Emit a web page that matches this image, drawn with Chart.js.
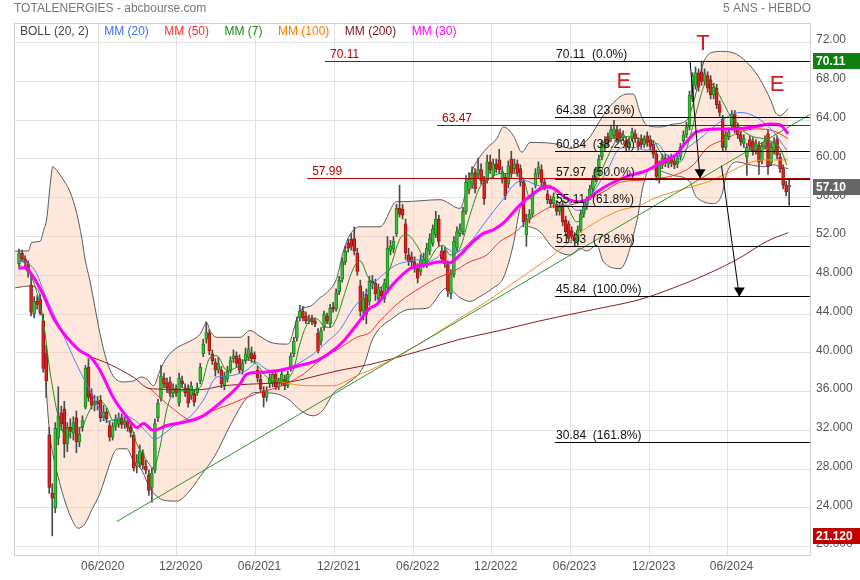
<!DOCTYPE html>
<html>
<head>
<meta charset="utf-8">
<title>TOTALENERGIES - 5 ANS - HEBDO</title>
<script src="https://cdn.jsdelivr.net/npm/chart.js@4.4.1/dist/chart.umd.min.js"></script>
<style>
  html, body { margin: 0; padding: 0; background: #fff; }
  canvas { display: block; }
</style>
</head>
<body>
<canvas id="myChart" width="860" height="580"></canvas>
<script>
// weekly candles, week 0 = last week of december 2019
const opens = [49.2,50.3,49.7,49.2,47.0,44.0,45.3,45.5,43.3,39.9, 31.5,25.5,24.0,31.2,33.8,34.2,30.6,32.3,31.7,33.3,
  30.8,32.3,34.4,38.5,35.8,34.6,35.0,35.1,33.3,33.9, 32.5,31.3,32.4,32.6,33.3,32.6,32.9,32.3,31.5,28.3,
  28.6,29.6,28.3,27.4,26.1,27.9,33.3,35.3,37.4,36.9, 37.0,35.8,36.3,34.8,37.1,36.4,36.3,35.6,35.8,35.9,
  37.1,39.9,41.4,42.0,39.9,39.0,38.2,38.2,36.6,37.3, 38.1,39.4,39.7,39.4,38.2,39.2,39.5,40.0,39.8,38.2,
  37.3,36.1,35.4,36.8,36.9,37.8,36.5,36.9,37.3,36.6, 38.4,39.9,41.5,43.6,44.3,43.8,43.3,43.6,43.3,42.0,
  41.2,42.6,43.8,43.0,44.6,44.5,46.3,47.6,49.4,51.3, 51.7,51.8,50.3,46.9,44.3,46.0,45.3,47.4,47.2,45.6,
  46.4,45.6,46.7,50.5,50.7,52.3,54.9,54.8,53.3,50.1, 49.9,49.4,48.7,48.4,49.1,49.1,50.5,51.3,52.2,53.8,
  50.5,50.5,49.1,46.1,48.1,50.8,52.3,52.5,54.6,56.8, 57.4,58.6,58.4,58.9,57.8,57.8,59.7,58.3,59.5,59.9,
  57.9,58.1,57.4,60.0,59.0,59.5,59.0,57.6,52.2,53.8, 54.3,57.3,58.5,58.9,57.6,56.4,55.8,55.4,55.3,54.6,
  55.3,53.7,53.3,52.6,52.0,51.5,52.7,54.3,55.1,56.1, 56.9,57.9,58.7,60.2,61.2,62.3,62.1,62.4,63.0,62.7,
  62.2,61.9,61.2,62.1,62.6,61.8,62.1,61.5,62.4,62.0, 61.5,60.5,57.9,59.4,60.1,59.5,60.1,59.8,59.5,60.2,
  61.9,62.5,63.3,66.2,67.6,68.9,69.0,68.0,68.6,68.2, 66.6,67.3,65.6,64.1,61.2,62.3,63.5,64.6,63.3,62.5,
  61.6,60.2,62.0,61.8,60.9,61.4,59.9,61.3,62.6,59.6, 60.9,62.0,60.2,59.0,57.3,57.1];
const highs = [50.7,50.6,50.0,49.5,48.2,45.8,45.9,46.0,44.0,40.8, 32.3,26.5,32.8,36.5,34.5,35.0,32.8,33.2,33.4,34.0,
  32.2,33.5,38.7,39.4,36.3,35.6,35.5,35.6,34.6,34.3, 33.0,32.8,33.6,33.8,33.7,33.4,33.3,32.7,31.8,29.5,
  30.5,30.0,28.9,27.9,28.1,33.2,35.2,38.7,37.9,37.4, 37.5,36.8,36.7,37.9,37.6,36.8,36.7,37.0,36.2,36.9,
  38.9,41.4,43.2,42.4,40.3,39.4,39.5,38.6,38.0,38.6, 39.6,40.3,40.1,39.8,39.3,40.5,41.7,40.6,40.1,38.6,
  37.8,36.5,36.5,37.8,38.2,38.1,37.4,38.1,37.7,38.1, 40.0,41.6,43.7,44.9,44.8,44.2,43.9,43.9,43.6,42.5,
  42.6,44.3,44.1,45.0,45.2,46.6,47.9,49.8,51.0,51.7, 52.3,53.0,50.8,47.5,46.3,46.6,47.9,48.0,47.6,47.1,
  46.8,47.6,52.0,51.6,52.0,55.3,57.3,55.3,53.8,50.8, 50.4,49.9,49.2,50.1,50.3,51.3,52.3,53.2,54.6,54.2,
  51.0,50.9,49.5,48.6,52.0,53.0,53.3,55.0,58.3,58.6, 59.2,59.0,60.1,59.5,58.2,60.4,60.4,60.0,60.0,61.0,
  59.2,58.5,59.8,60.8,60.0,59.9,59.4,57.9,54.3,54.8, 57.0,59.0,59.7,59.4,58.0,56.8,56.2,56.5,55.7,55.5,
  55.7,54.1,53.6,53.0,52.4,53.1,54.7,55.5,56.1,57.3, 58.3,59.1,60.4,61.9,62.3,62.7,63.5,64.0,63.4,63.1,
  62.9,62.3,62.2,63.2,63.0,62.2,62.5,62.4,62.8,62.4, 61.9,60.9,59.8,60.5,60.5,60.4,60.5,60.2,60.5,61.6,
  62.9,63.8,67.0,68.9,69.5,69.3,70.11,69.3,69.0,68.6, 67.8,67.7,66.0,64.5,62.9,63.2,65.0,65.0,63.7,62.9,
  62.5,61.6,62.4,62.2,62.0,61.8,61.7,62.4,63.0,61.7, 62.2,62.4,60.6,59.4,57.7,57.8];
const lows = [48.9,49.4,48.9,47.8,43.8,43.6,44.5,43.9,38.0,35.4, 25.5,21.12,23.5,30.5,32.0,29.2,29.8,31.2,31.0,29.7,
  30.3,31.9,34.2,35.0,34.2,34.0,34.1,32.9,33.0,32.8, 30.9,31.0,32.0,32.3,32.2,32.2,31.9,31.3,27.8,27.6,
  28.2,28.0,27.5,25.3,24.6,27.6,32.9,35.0,36.4,35.9, 35.5,35.4,35.5,34.5,36.4,35.5,34.4,35.2,34.5,35.6,
  36.8,39.6,41.0,39.8,38.8,37.6,37.9,36.4,36.2,37.0, 37.9,39.0,38.5,37.9,37.8,38.9,39.2,39.0,39.0,37.0,
  35.9,34.4,35.0,36.4,36.5,36.2,36.2,36.6,36.2,36.4, 38.1,39.6,41.2,43.3,43.3,43.0,43.0,42.9,42.7,40.0,
  40.8,42.3,43.0,42.7,44.2,44.3,46.0,47.3,49.1,50.4, 50.6,50.1,48.0,43.8,43.4,43.0,44.9,46.6,45.4,45.2,
  45.4,45.2,46.4,50.1,50.3,52.0,54.0,53.8,49.6,49.0, 48.9,48.3,47.2,48.0,48.8,48.8,50.1,51.0,51.9,51.0,
  49.3,48.8,45.8,45.6,47.8,50.5,52.0,52.2,54.3,56.4, 57.0,56.5,58.0,57.4,55.3,57.5,58.5,58.0,58.6,58.5,
  57.5,55.8,57.0,58.1,58.6,58.2,57.2,53.0,51.0,53.4, 54.0,57.0,58.1,57.2,56.8,55.4,55.0,55.0,54.2,54.2,
  53.1,52.1,51.4,51.6,51.0,51.1,52.4,54.0,54.8,55.8, 56.6,57.6,58.4,59.9,60.9,61.3,61.8,62.1,61.7,61.8,
  61.9,60.8,60.9,61.8,61.7,60.9,61.1,61.2,61.3,60.9, 60.1,57.8,57.5,59.0,59.2,59.1,59.2,59.0,59.1,59.9,
  61.5,62.2,63.0,65.9,67.2,67.0,67.6,67.6,66.9,66.2, 66.2,65.2,64.4,60.8,60.9,62.0,63.2,62.7,62.1,61.4,
  61.2,58.3,60.9,60.4,60.5,58.4,59.5,61.0,58.4,59.3, 60.5,60.0,58.6,56.9,56.2,55.2];
const closes = [50.3,49.7,49.3,48.4,44.2,45.3,45.0,44.1,38.4,37.1, 26.1,25.0,32.2,33.5,32.7,30.6,32.3,31.9,32.8,30.8,
  31.6,33.0,38.4,35.4,34.6,35.0,34.7,33.3,33.9,33.2, 31.3,32.4,33.2,33.3,32.6,32.9,32.3,31.8,28.1,28.7,
  29.9,28.4,27.9,25.8,27.6,32.7,34.8,37.6,36.8,36.4, 35.8,36.3,35.9,37.4,36.8,35.9,34.8,36.6,34.9,36.4,
  38.5,40.9,42.1,40.2,39.2,38.2,38.9,36.8,37.6,38.1, 39.2,39.7,38.9,38.2,38.9,39.9,40.4,39.4,39.4,37.4,
  36.3,35.4,36.1,37.4,37.8,36.5,37.1,37.8,36.6,37.8, 39.7,41.2,43.3,44.3,43.6,43.3,43.5,43.2,43.0,40.2,
  42.3,44.0,43.3,44.6,44.5,46.2,47.5,49.4,50.5,50.8, 51.0,50.5,48.4,44.3,45.6,44.0,47.4,47.2,46.1,46.6,
  45.9,47.2,50.8,51.0,51.5,54.9,54.3,54.2,50.3,49.4, 49.4,48.7,47.7,49.6,49.7,50.8,51.8,52.8,53.8,51.5,
  49.7,49.2,46.4,48.1,51.5,52.5,52.8,54.6,57.6,57.9, 58.5,56.9,58.9,57.8,55.9,59.7,58.9,59.5,59.0,58.9,
  58.7,56.2,59.3,58.5,59.5,58.6,57.6,53.5,53.8,54.3, 56.5,58.5,59.2,57.6,57.2,55.8,55.4,56.1,54.6,55.1,
  53.5,52.5,51.8,52.0,51.6,52.7,54.3,55.1,55.7,56.9, 57.9,58.7,60.0,61.5,61.8,61.7,63.0,63.1,62.1,62.2,
  62.5,61.2,61.8,62.8,62.1,61.3,61.5,62.0,61.7,61.3, 60.5,58.2,59.4,60.1,59.6,60.0,59.6,59.4,60.1,61.2,
  62.5,63.3,66.6,68.6,68.9,67.4,68.0,68.8,67.3,66.6, 67.4,65.6,64.8,61.2,62.5,62.8,64.6,63.1,62.5,61.8,
  62.1,61.2,61.3,60.8,61.6,59.7,61.3,61.9,59.2,61.2, 61.7,60.4,59.0,57.3,56.6,57.1];

// indicator lines: week positions and values
const bollUpW = [-1.3,3.1,4.2,7.0,8.0,9.2,10.3,11.2,12.5,15.2,16.9,19.1,20.8,21.9,23.5,26.8,29.0,31.2,34.5,37.8,
  40.6,42.3,44.5,46.7,48.9,52.2,56.6,59.9,62.2,63.2,65.5,73.2,76.5,79.8,83.1,88.6,89.7,91.4,93.6,96.4,
  99.7,101.9,105.2,107.4,109.6,112.9,119.5,125.1,127.3,139.4,146.0,149.3,152.1,154.9,158.2,160.4,163.7,166.5,169.2,176.9,
  182.5,188.0,193.5,196.8,201.2,203.4,205.6,207.8,212.3,216.7,221.1,223.3,226.6,229.4,233.2,237.6,242.1,245.4,248.7,250.9,
  252.0,254.7];
const bollUpV = [50.5,50.5,51.4,51.5,52.5,53.9,57.3,59.2,58.8,57.6,56.6,54.4,51.8,49.6,47.4,42.0,39.2,37.6,37.0,37.1,
  37.5,37.3,36.6,38.2,39.5,40.5,41.2,41.9,43.1,42.3,41.6,41.6,42.3,41.7,41.1,40.9,41.1,42.9,44.5,44.8,
  45.7,46.2,47.7,50.5,52.2,53.0,53.0,55.6,55.6,55.8,54.9,58.3,60.0,61.1,62.1,63.3,62.4,60.7,61.7,61.6,
  61.1,61.9,64.5,65.8,66.7,66.7,64.8,63.5,63.3,63.6,64.0,65.8,69.9,71.0,71.1,70.8,69.6,68.2,66.2,64.6,
  64.5,65.2];
const bollLowW = [-1.3,3.6,6.3,8.0,9.2,10.3,11.9,14.7,17.5,19.6,21.9,24.1,26.8,30.1,31.8,33.4,35.7,37.8,40.6,43.4,
  45.6,47.8,52.2,56.6,59.9,64.9,69.9,74.8,78.1,84.8,89.7,93.0,97.4,100.7,104.0,108.6,113.9,117.2,123.8,129.5,
  135.1,141.7,146.0,149.3,152.6,157.0,160.3,163.6,165.9,167.0,168.1,169.2,172.5,176.9,182.5,185.8,188.0,191.3,193.5,199.0,
  204.5,206.7,208.9,216.7,222.2,223.8,226.6,229.9,232.7,234.3,237.6,242.1,246.5,249.8,252.0,254.7];
const bollLowV = [46.7,46.9,46.5,42.5,35.4,31.3,28.6,25.2,22.8,21.9,22.4,23.8,25.5,28.6,29.9,30.1,30.1,28.9,27.9,26.0,
  25.2,24.8,24.7,25.8,27.2,29.4,32.5,35.1,35.9,35.8,35.1,34.1,33.5,34.1,35.8,36.8,38.5,41.5,43.6,44.5,
  44.6,46.7,45.7,45.3,45.8,46.7,47.7,51.1,54.9,55.3,53.2,53.0,52.5,50.8,50.1,50.8,50.5,51.1,49.4,48.7,
  53.5,57.3,59.0,58.3,57.6,56.3,55.6,55.4,56.3,58.5,59.7,59.4,59.2,59.4,59.2,59.0];
const mm30W = [-0.2,2.0,4.2,8.0,11.4,15.8,20.2,23.5,26.8,31.2,35.7,39.0,41.2,44.5,48.9,55.5,61.0,67.6,73.2,75.4,
  80.9,86.4,93.0,98.6,103.0,107.4,111.8,116.2,118.5,123.9,129.5,135.0,139.4,142.7,146.0,150.4,153.7,157.1,160.4,164.8,
  168.1,174.7,176.9,181.4,185.8,188.0,191.3,196.8,202.3,207.8,212.3,217.8,220.0,224.4,231.0,237.6,243.1,248.7,252.0,254.7];
const mm30V = [48.7,48.8,48.1,46.0,43.6,41.6,40.2,39.6,38.2,35.4,33.4,32.3,32.7,32.0,32.5,32.9,33.5,35.1,36.8,37.8,
  38.0,38.2,38.7,39.2,40.0,41.2,42.9,44.6,45.0,47.1,48.7,49.1,49.4,49.3,50.1,51.5,52.3,52.7,53.4,54.9,
  55.9,57.1,57.0,55.9,55.6,55.8,56.6,57.6,58.3,58.8,59.6,60.5,61.4,62.8,63.1,63.1,63.3,63.6,63.5,62.6];
const mm20W = [-0.3,5.3,8.6,13.6,19.1,23.5,26.8,29.0,32.4,35.7,39.0,42.3,45.0,47.8,52.2,56.6,61.0,65.5,68.8,75.4,
  78.7,80.9,83.1,87.5,89.7,93.0,97.5,101.9,106.3,110.7,114.0,117.3,121.8,125.1,128.4,131.7,135.0,138.3,141.6,143.8,
  146.0,150.4,153.7,157.1,160.4,163.7,167.0,171.4,175.8,180.3,184.7,186.9,190.2,194.6,199.0,203.4,207.8,211.2,214.5,217.8,
  221.1,225.5,229.9,238.7,242.1,246.5,249.8,254.2];
const mm20V = [49.6,48.5,46.0,42.6,38.8,36.1,34.1,32.9,33.2,33.4,32.9,31.8,31.1,31.6,32.7,33.4,35.1,37.5,37.6,38.2,
  39.0,38.5,38.2,38.2,38.5,39.0,39.9,41.1,42.4,44.6,45.8,47.1,48.4,49.1,49.4,49.6,49.4,49.8,50.8,50.3,
  50.5,51.8,53.2,54.6,55.9,57.3,57.8,57.3,57.0,56.3,54.7,54.9,56.6,58.7,61.1,61.2,60.9,61.6,60.4,60.2,
  61.1,62.1,63.3,64.8,64.6,63.8,62.8,60.9];
const mm50W = [43.4,51.1,57.7,63.2,69.9,78.7,85.3,89.7,94.1,100.8,106.3,111.8,116.2,119.5,126.2,132.8,138.3,143.8,149.3,154.9,
  159.3,163.7,168.1,172.5,176.9,181.4,188.0,193.5,199.0,205.6,211.2,216.7,223.3,227.7,234.3,238.7,244.3,249.8,254.7];
const mm50V = [36.3,34.2,33.0,33.9,34.7,35.8,36.4,37.0,37.8,39.5,40.5,41.6,42.1,43.3,45.3,46.7,47.7,48.4,49.4,50.1,
  51.5,52.3,53.5,54.5,55.1,55.2,55.8,56.6,57.6,57.8,58.0,58.3,59.4,61.1,62.1,62.8,63.1,62.9,62.1];
const mm7W = [0.3,4.7,8.0,10.3,13.0,15.8,18.5,20.8,22.4,24.6,26.8,29.0,31.2,34.5,36.8,39.0,42.3,44.5,46.7,48.9,
  51.1,55.5,59.9,63.2,65.5,68.8,72.1,75.4,78.7,82.0,85.3,88.6,90.8,93.0,95.3,98.6,100.8,103.0,105.2,107.4,
  110.7,112.9,115.6,119.5,122.8,126.2,128.4,131.7,135.0,138.3,140.5,142.7,146.0,149.3,152.6,155.9,159.3,163.7,167.0,169.2,
  172.5,175.8,178.1,181.4,184.7,186.4,188.0,191.3,194.6,197.9,202.3,205.6,210.0,212.3,215.6,218.9,221.6,224.4,227.7,229.9,
  233.2,235.4,237.6,239.8,243.1,246.5,249.8,252.0,254.2];
const mm7V = [49.1,47.4,43.3,38.0,33.4,31.3,32.3,32.3,33.4,34.7,35.0,34.4,33.0,33.0,32.7,30.6,28.9,28.1,30.3,34.1,
  35.8,36.1,36.4,39.5,39.7,38.2,38.5,39.3,38.8,37.5,37.1,37.3,38.2,40.9,42.9,43.5,42.8,42.6,43.6,45.7,
  48.7,49.5,47.8,46.7,48.7,51.8,52.2,51.1,49.4,50.8,51.1,50.1,50.8,54.2,57.1,58.0,58.5,58.5,58.0,55.9,
  57.1,57.3,56.3,55.2,53.5,53.9,55.2,57.6,60.0,61.9,62.3,62.1,61.9,60.7,59.7,59.7,61.6,65.0,67.9,67.6,
  65.8,64.5,63.8,62.9,62.3,62.1,61.7,61.1,59.4];
const mm100W = [83.1,89.7,96.4,104.1,108.5,112.9,116.2,126.2,136.1,146.0,154.9,165.9,176.9,188.0,199.0,205.6,210.0,221.1,227.7,234.3,
  238.7,246.5,254.7];
const mm100V = [37.3,36.8,36.6,36.6,37.1,37.8,38.2,39.8,41.6,43.6,45.3,47.7,50.1,52.9,54.7,55.2,55.9,57.0,57.6,58.5,
  59.2,59.9,59.9];
const mm200W = [22.8,30.1,37.8,43.4,59.9,67.6,78.7,89.7,100.8,106.3,116.2,132.8,146.0,159.3,172.5,192.4,205.6,216.7,227.7,238.7,
  247.6,254.7];
const mm200V = [39.7,38.8,37.5,36.3,36.2,36.6,36.8,37.0,37.8,38.2,38.8,40.2,41.4,42.3,43.3,44.6,45.5,46.7,48.1,49.8,
  51.5,52.4];
const trendW = [32.4, 261.9];
const trendV = [22.6, 64.6];

// annotations
const fibLevels = [70.11, 64.38, 60.84, 57.97, 55.11, 51.03, 45.84, 30.84];
const fibPct = ['0.0%', '23.6%', '38.2%', '50.0%', '61.8%', '78.6%', '100.0%', '161.8%'];
const fibFrom = 177.5;
const redLevels = [70.11, 63.47, 57.99];
const redFrom = [101.3, 138.4, 95.4];
const redTo = [177.5, null, null];
const arrowFromW = [222.2, 232.6];
const arrowFromV = [70.04, 59.3];
const arrowToW = [225.5, 238.5];
const arrowToV = [58.0, 45.8];
const markText = ['E', 'T', 'E'];
const markW = [200.3, 226.5, 251.0];
const markV = [67.95, 71.87, 67.64];
const badgeValues = [70.11, 57.10, 21.12];

// axes
const tickWeeks = [26.4, 52.2, 78.3, 104.5, 130.7, 156.5, 182.6, 208.8, 234.6];
const tickLabels = ['06/2020', '12/2020', '06/2021', '12/2021', '06/2022', '12/2022', '06/2023', '12/2023', '06/2024'];
const yTicks = [20, 24, 28, 32, 36, 40, 44, 48, 52, 56, 60, 64, 68, 72];
const legendNames = ['BOLL (20, 2)', 'MM (20)', 'MM (50)', 'MM (7)', 'MM (100)', 'MM (200)', 'MM (30)'];

const FONT = '"Liberation Sans", Arial, sans-serif';
const legendColors = ['#444444', '#3d6cff', '#ff2a2a', '#168c16', '#ff7a00', '#7b1111', '#ff00ff'];
const badgeColors = ['#108010', '#666666', '#c00000'];

const fmt = v => v >= 50 ? v.toFixed(2) : v.toFixed(3);
const pts = (ws, vs) => ws.map((w, i) => ({ x: w, y: vs[i] }));

const bodyFill = closes.map((c, i) => c > opens[i] ? '#33c433' : c < opens[i] ? '#e02424' : '#8a8a8a');
const bodyLine = closes.map((c, i) => c > opens[i] ? '#1c861c' : c < opens[i] ? '#a31010' : '#666666');

const lineDs = (label, ws, vs, color, width, order) => ({
  type: 'line', label, data: pts(ws, vs), borderColor: color, borderWidth: width,
  pointRadius: 0, fill: false, cubicInterpolationMode: 'monotone', order
});

const overlay = {
  id: 'overlay',
  afterDatasetsDraw(chart) {
    const { ctx, chartArea: a, scales: { x, y } } = chart;
    const px = w => x.getPixelForValue(w);
    const py = v => Math.round(y.getPixelForValue(v)) + 0.5;
    ctx.save();
    ctx.beginPath();
    ctx.rect(a.left, a.top, a.right - a.left, a.bottom - a.top);
    ctx.clip();
    ctx.lineWidth = 1;
    ctx.font = '12px ' + FONT;
    ctx.textAlign = 'left';
    ctx.textBaseline = 'bottom';

    redLevels.forEach((v, i) => {
      const x0 = px(redFrom[i]);
      const x1 = redTo[i] === null ? a.right : px(redTo[i]);
      ctx.strokeStyle = '#b50000';
      ctx.beginPath(); ctx.moveTo(x0, py(v)); ctx.lineTo(x1, py(v)); ctx.stroke();
      ctx.fillStyle = '#b50000';
      ctx.fillText(v.toFixed(2), x0 + 5, py(v) - 1);
    });

    const fx = px(fibFrom);
    fibLevels.forEach((v, i) => {
      ctx.strokeStyle = '#000';
      ctx.beginPath(); ctx.moveTo(fx, py(v)); ctx.lineTo(a.right, py(v)); ctx.stroke();
      ctx.fillStyle = '#111';
      ctx.fillText(v.toFixed(2) + '  (' + fibPct[i] + ')', fx + 1, py(v) - 1);
    });

    arrowFromW.forEach((w, i) => {
      const x0 = px(w), y0 = y.getPixelForValue(arrowFromV[i]);
      const x1 = px(arrowToW[i]), y1 = y.getPixelForValue(arrowToV[i]);
      ctx.strokeStyle = '#000';
      ctx.beginPath(); ctx.moveTo(x0, y0); ctx.lineTo(x1, y1); ctx.stroke();
      ctx.fillStyle = '#000';
      ctx.beginPath();
      ctx.moveTo(x1, y1);
      ctx.lineTo(x1 - 5.5, y1 - 9);
      ctx.lineTo(x1 + 5.5, y1 - 9);
      ctx.closePath();
      ctx.fill();
    });

    ctx.font = '22px ' + FONT;
    ctx.fillStyle = '#cc1f1f';
    ctx.textAlign = 'center';
    ctx.textBaseline = 'middle';
    markText.forEach((t, i) => ctx.fillText(t, px(markW[i]), y.getPixelForValue(markV[i])));
    ctx.restore();
  },
  afterDraw(chart) {
    const { ctx, chartArea: a, scales: { y } } = chart;
    ctx.save();
    ctx.strokeStyle = '#cfcfcf';
    ctx.lineWidth = 1;
    ctx.strokeRect(a.left + 0.5, a.top + 0.5, a.right - a.left, a.bottom - a.top);

    ctx.font = '12px ' + FONT;
    ctx.textBaseline = 'middle';
    ctx.fillStyle = '#777';
    ctx.textAlign = 'left';
    ctx.fillText('TOTALENERGIES - abcbourse.com', 14, 9);
    ctx.textAlign = 'right';
    ctx.fillText('5 ANS - HEBDO', 811, 9);

    ctx.textAlign = 'left';
    let lx = 20;
    legendNames.forEach((t, i) => {
      ctx.fillStyle = legendColors[i];
      ctx.fillText(t, lx, 32);
      lx += ctx.measureText(t).width + 15.5;
    });

    ctx.font = 'bold 12px ' + FONT;
    badgeValues.forEach((v, i) => {
      const cy = y.getPixelForValue(v);
      ctx.fillStyle = badgeColors[i];
      ctx.fillRect(a.right + 3, Math.round(cy - 8), 50, 16);
      ctx.fillStyle = '#fff';
      ctx.fillText(fmt(v), a.right + 6, cy + 0.5);
    });
    ctx.restore();
  }
};

Chart.defaults.font.family = FONT;

new Chart(document.getElementById('myChart'), {
  type: 'bar',
  data: {
    datasets: [
      Object.assign(lineDs('BOLL haut', bollUpW, bollUpV, '#5a5a5a', 1, 30),
        { fill: { target: '+1' }, backgroundColor: 'rgba(250, 205, 175, 0.45)' }),
      lineDs('BOLL bas', bollLowW, bollLowV, '#5a5a5a', 1, 29),
      {
        type: 'bar', label: 'meches',
        data: lows.map((l, i) => ({ x: i, y: [l, highs[i]] })),
        backgroundColor: '#4a4a4a', barThickness: 1, grouped: false, order: 20
      },
      {
        type: 'bar', label: 'corps',
        data: opens.map((o, i) => ({ x: i, y: [o, closes[i]] })),
        backgroundColor: bodyFill, borderColor: bodyLine, borderWidth: 1, borderSkipped: false,
        barThickness: 3, minBarLength: 2, grouped: false, order: 19
      },
      lineDs('MM (200)', mm200W, mm200V, '#8a1c1c', 1, 10),
      lineDs('MM (100)', mm100W, mm100V, '#ff8a1a', 1, 9),
      lineDs('MM (50)', mm50W, mm50V, '#ff3030', 1, 8),
      lineDs('MM (20)', mm20W, mm20V, '#4d7cff', 1, 7),
      lineDs('MM (7)', mm7W, mm7V, '#1a921a', 1, 6),
      Object.assign(lineDs('tendance', trendW, trendV, '#2d962d', 1, 5), { cubicInterpolationMode: 'default', tension: 0 }),
      lineDs('MM (30)', mm30W, mm30V, '#ff00ff', 3, 1)
    ]
  },
  options: {
    responsive: false,
    animation: false,
    devicePixelRatio: 1,
    layout: { padding: { left: 14, top: 23, right: 0, bottom: 0 } },
    plugins: { legend: { display: false }, tooltip: { enabled: false } },
    scales: {
      x: {
        type: 'linear', min: -1.66, max: 261.9, offset: false,
        afterBuildTicks: s => { s.ticks = tickWeeks.map(v => ({ value: v })); },
        afterFit: s => { s.height = 25; },
        grid: { color: '#e2e2e2', drawTicks: false, offset: false },
        border: { color: '#cfcfcf' },
        ticks: {
          padding: 4, labelOffset: 4, color: '#555', autoSkip: false, maxRotation: 0,
          font: { size: 12 },
          callback: (v, i) => tickLabels[i]
        }
      },
      y: {
        type: 'linear', position: 'right', min: 19.14, max: 74.03,
        afterBuildTicks: s => { s.ticks = yTicks.map(v => ({ value: v })); },
        afterFit: s => { s.width = 50; },
        grid: { color: '#e2e2e2', drawTicks: false },
        border: { color: '#cfcfcf' },
        ticks: {
          padding: 6, labelOffset: -2.5, color: '#555', autoSkip: false,
          font: { size: 12 },
          callback: v => fmt(v)
        }
      }
    }
  },
  plugins: [overlay]
});
</script>
</body>
</html>
